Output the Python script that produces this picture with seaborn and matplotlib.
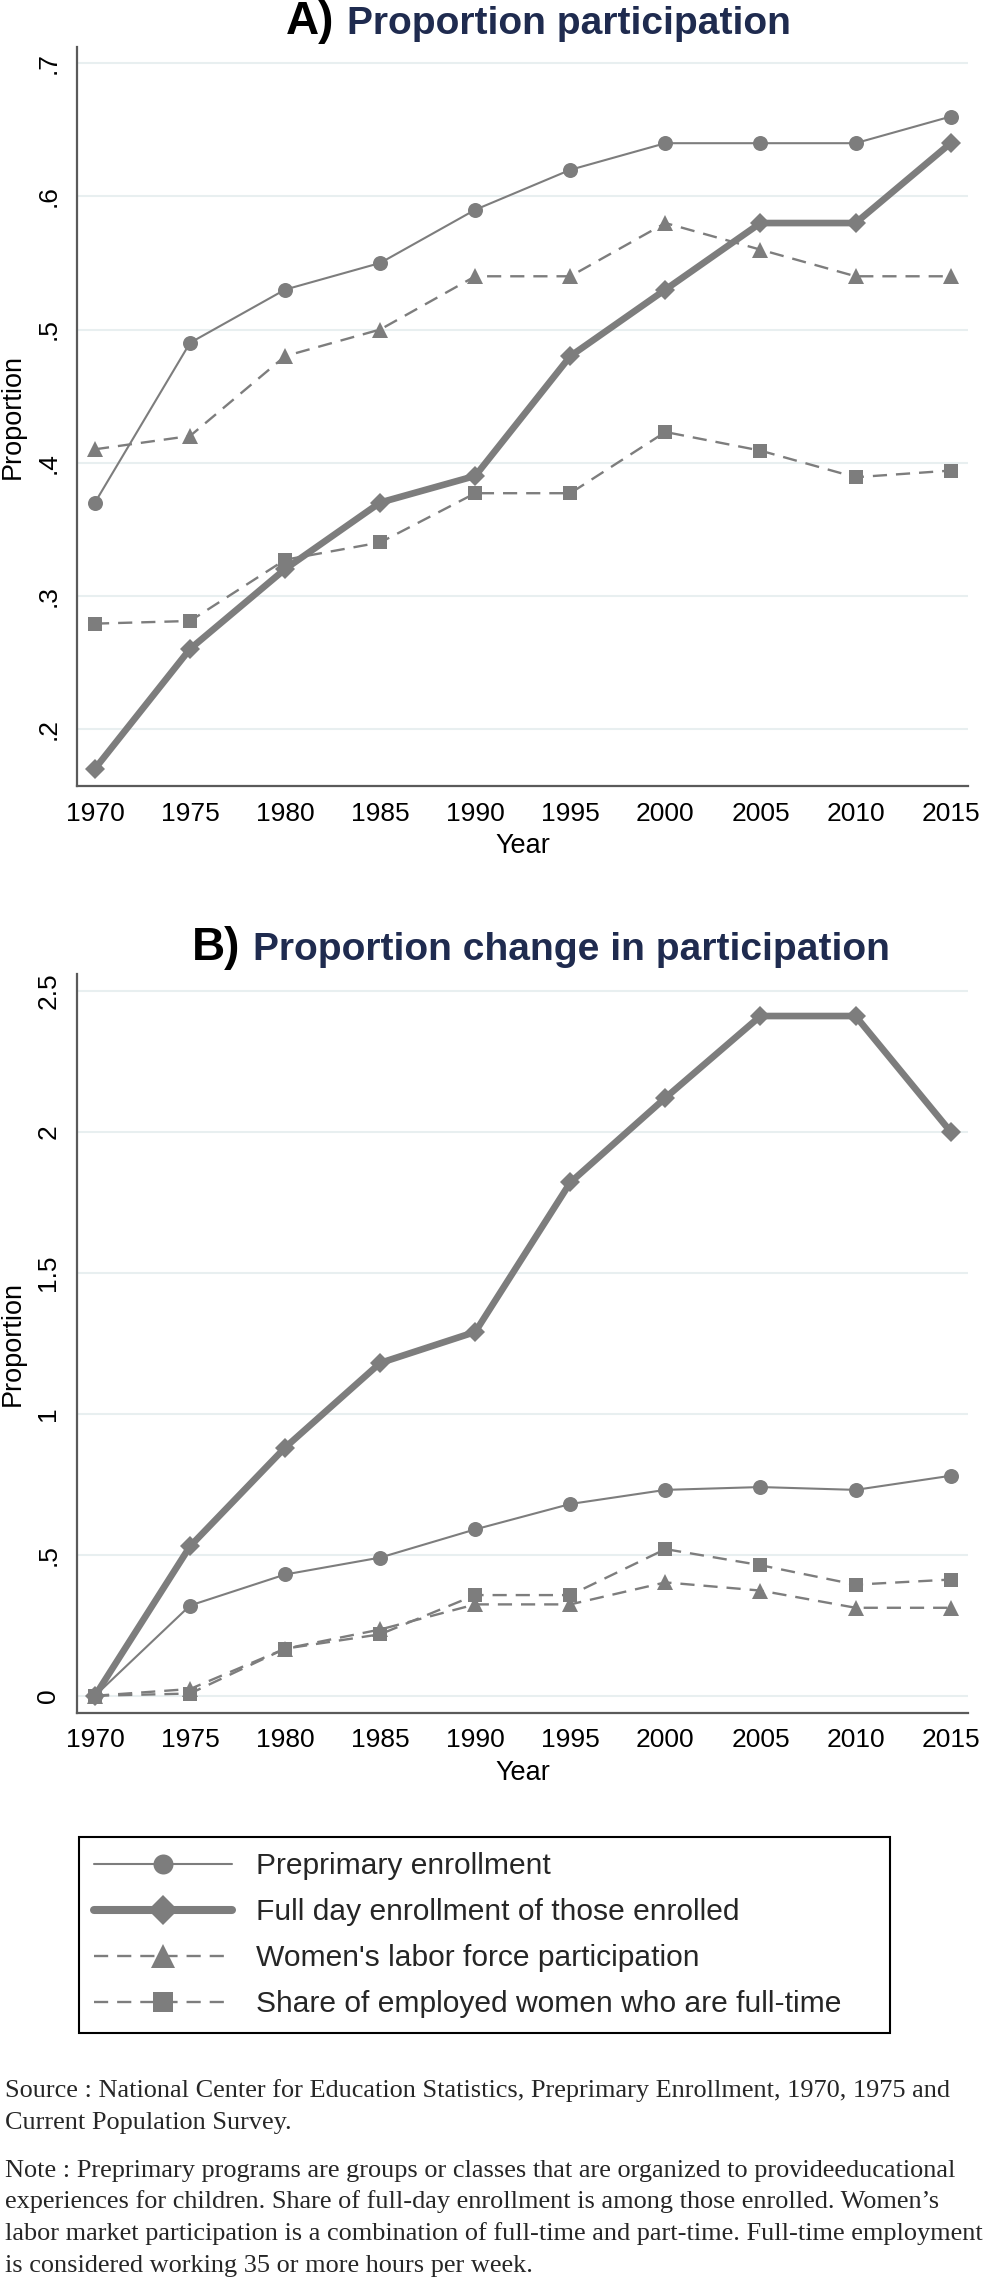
import matplotlib
matplotlib.use("Agg")
import matplotlib.pyplot as plt
import seaborn as sns
import pandas as pd
from matplotlib import font_manager
from matplotlib.ticker import FixedLocator, FixedFormatter

# ---------------- data ----------------
years = [1970, 1975, 1980, 1985, 1990, 1995, 2000, 2005, 2010, 2015]

series_names = [
    "Preprimary enrollment",
    "Full day enrollment of those enrolled",
    "Women's labor force participation",
    "Share of employed women who are full-time",
]

# Panel A: proportion participation
a_pre = [0.37, 0.49, 0.53, 0.55, 0.59, 0.62, 0.64, 0.64, 0.64, 0.66]
a_full = [0.17, 0.26, 0.32, 0.37, 0.39, 0.48, 0.53, 0.58, 0.58, 0.64]
a_lfp = [0.41, 0.42, 0.48, 0.50, 0.54, 0.54, 0.58, 0.56, 0.54, 0.54]
a_ft = [0.279, 0.281, 0.327, 0.340, 0.377, 0.377, 0.423, 0.409, 0.389, 0.394]

# Panel B: proportion change in participation
b_pre = [0.0, 0.32, 0.43, 0.49, 0.59, 0.68, 0.73, 0.74, 0.73, 0.78]
b_full = [0.0, 0.53, 0.88, 1.18, 1.29, 1.82, 2.12, 2.41, 2.41, 2.00]
b_lfp = [0.0, 0.024, 0.167, 0.235, 0.324, 0.324, 0.402, 0.373, 0.312, 0.312]
b_ft = [0.0, 0.008, 0.167, 0.218, 0.357, 0.357, 0.520, 0.463, 0.394, 0.412]

a_yticks = [0.2, 0.3, 0.4, 0.5, 0.6, 0.7]
a_yticklabels = [".2", ".3", ".4", ".5", ".6", ".7"]
b_yticks = [0.0, 0.5, 1.0, 1.5, 2.0, 2.5]
b_yticklabels = ["0", ".5", "1", "1.5", "2", "2.5"]
xticklabels = [str(y) for y in years]

title_a = ("A)", "Proportion participation")
title_b = ("B)", "Proportion change in participation")

source_lines = [
    "Source : National Center for Education Statistics, Preprimary Enrollment, 1970, 1975 and",
    "Current Population Survey.",
]
note_lines = [
    "Note : Preprimary programs are groups or classes that are organized to provideeducational",
    "experiences for children. Share of full-day enrollment is among those enrolled. Women\u2019s",
    "labor market participation is a combination of full-time and part-time. Full-time employment",
    "is considered working 35 or more hours per week.",
]

# ---------------- style ----------------
sns.set_theme(style="white")
installed = {f.name for f in font_manager.fontManager.ttflist}
sans = "Liberation Sans" if "Liberation Sans" in installed else "DejaVu Sans"
serif = "Liberation Serif" if "Liberation Serif" in installed else "DejaVu Serif"
plt.rcParams["font.family"] = [sans, "DejaVu Sans"]

W, H, DPI = 995, 2280, 100
GRAY = "#7d7d7d"
AXC = "#5a5a5a"
GRID = "#e8eff0"
NAVY = "#1f2b4f"

fig = plt.figure(figsize=(W / DPI, H / DPI), dpi=DPI)
fig.patch.set_facecolor("white")


def px_axes(left, top, right, bottom):
    return fig.add_axes([left / W, 1 - bottom / H, (right - left) / W, (bottom - top) / H])


styles = [
    dict(marker="o", markersize=10.8, linewidth=1.5, linestyle="-"),
    dict(marker="D", markersize=10.4, linewidth=4.8, linestyle="-"),
    dict(marker="^", markersize=12.0, linewidth=1.7, linestyle=(0, (6, 3.8))),
    dict(marker="s", markersize=10.2, linewidth=1.7, linestyle=(0, (6, 3.8))),
]


def draw_panel(ax, data, yticks, yticklabels, ylim):
    for name, vals, st in zip(series_names, data, styles):
        df = pd.DataFrame({"Year": years, "v": vals})
        sns.lineplot(data=df, x="Year", y="v", ax=ax, color=GRAY,
                     markeredgecolor=GRAY, markeredgewidth=0, label=name,
                     errorbar=None, **st)
    leg = ax.get_legend()
    if leg is not None:
        leg.remove()
    ax.set_xlim(1969.07, 2015.93)
    ax.set_ylim(*ylim)
    ax.xaxis.set_major_locator(FixedLocator(years))
    ax.xaxis.set_major_formatter(FixedFormatter(xticklabels))
    ax.yaxis.set_major_locator(FixedLocator(yticks))
    ax.yaxis.set_major_formatter(FixedFormatter(yticklabels))
    for yv in yticks:
        ax.axhline(yv, color=GRID, linewidth=1.5, zorder=0)
    for s in ["top", "right"]:
        ax.spines[s].set_visible(False)
    for s in ["left", "bottom"]:
        ax.spines[s].set_color(AXC)
        ax.spines[s].set_linewidth(1.6)
    ax.tick_params(axis="both", direction="out", length=7.7, width=1.5,
                   color=AXC, labelsize=19, labelcolor="black", pad=3.5)
    ax.tick_params(axis="y", labelrotation=90, pad=4.6)
    for lab in ax.get_yticklabels():
        lab.set_va("center")
    ax.set_xlabel("Year", fontsize=19.5, color="black")
    ax.set_ylabel("Proportion", fontsize=19.5, color="black")
    ax.xaxis.set_label_coords(0.5, -0.064)
    ax.yaxis.set_label_coords(-0.058, 0.5)
    ax.set_facecolor("white")


ax1 = px_axes(77.3, 46.7, 968.3, 786.0)
draw_panel(ax1, [a_pre, a_full, a_lfp, a_ft], a_yticks, a_yticklabels, (0.157, 0.7125))

ax2 = px_axes(77.3, 974.0, 968.3, 1712.7)
draw_panel(ax2, [b_pre, b_full, b_lfp, b_ft], b_yticks, b_yticklabels, (-0.060, 2.559))

# ---------------- titles ----------------


def two_part_title(parts, left_px, baseline_px):
    t1 = fig.text(left_px / W, 1 - baseline_px / H, parts[0], fontsize=33, fontweight="bold",
                  color="black", va="baseline", ha="left")
    fig.canvas.draw()
    r = fig.canvas.get_renderer()
    w1 = t1.get_window_extent(r).width
    fig.text((left_px + w1 + 13) / W, 1 - baseline_px / H, parts[1], fontsize=28.1,
             fontweight="bold", color=NAVY, va="baseline", ha="left")


two_part_title(title_a, 286, 34)
two_part_title(title_b, 192, 960)

# ---------------- legend ----------------
handles, labels = ax1.get_legend_handles_labels()
leg = fig.legend(handles, labels, loc="upper left",
                 bbox_to_anchor=(79 / W, 1 - 2062 / H, (890 - 79) / W, 225 / H),
                 mode="expand", fontsize=21.6, frameon=True, fancybox=False,
                 edgecolor="black", framealpha=1, borderpad=0.5, labelspacing=0.6,
                 handlelength=4.6, handletextpad=0.8, borderaxespad=0)
leg.get_frame().set_linewidth(1.5)
leg_ms = [14.4, 15.0, 17.0, 14.4]
leg_lw = [1.5, 5.8, 1.7, 1.7]
for h, ms, lw in zip(leg.legend_handles, leg_ms, leg_lw):
    h.set_markersize(ms)
    h.set_linewidth(lw)

# ---------------- source / note ----------------
src_baselines = [2097, 2129]
note_baselines = [2177, 2208, 2240, 2272]
for line, b in zip(source_lines, src_baselines):
    fig.text(5 / W, 1 - b / H, line, family=serif, fontsize=18.9, va="baseline", ha="left")
for line, b in zip(note_lines, note_baselines):
    fig.text(5 / W, 1 - b / H, line, family=serif, fontsize=18.9, va="baseline", ha="left")

fig.savefig("out.png", dpi=DPI, facecolor="white")
